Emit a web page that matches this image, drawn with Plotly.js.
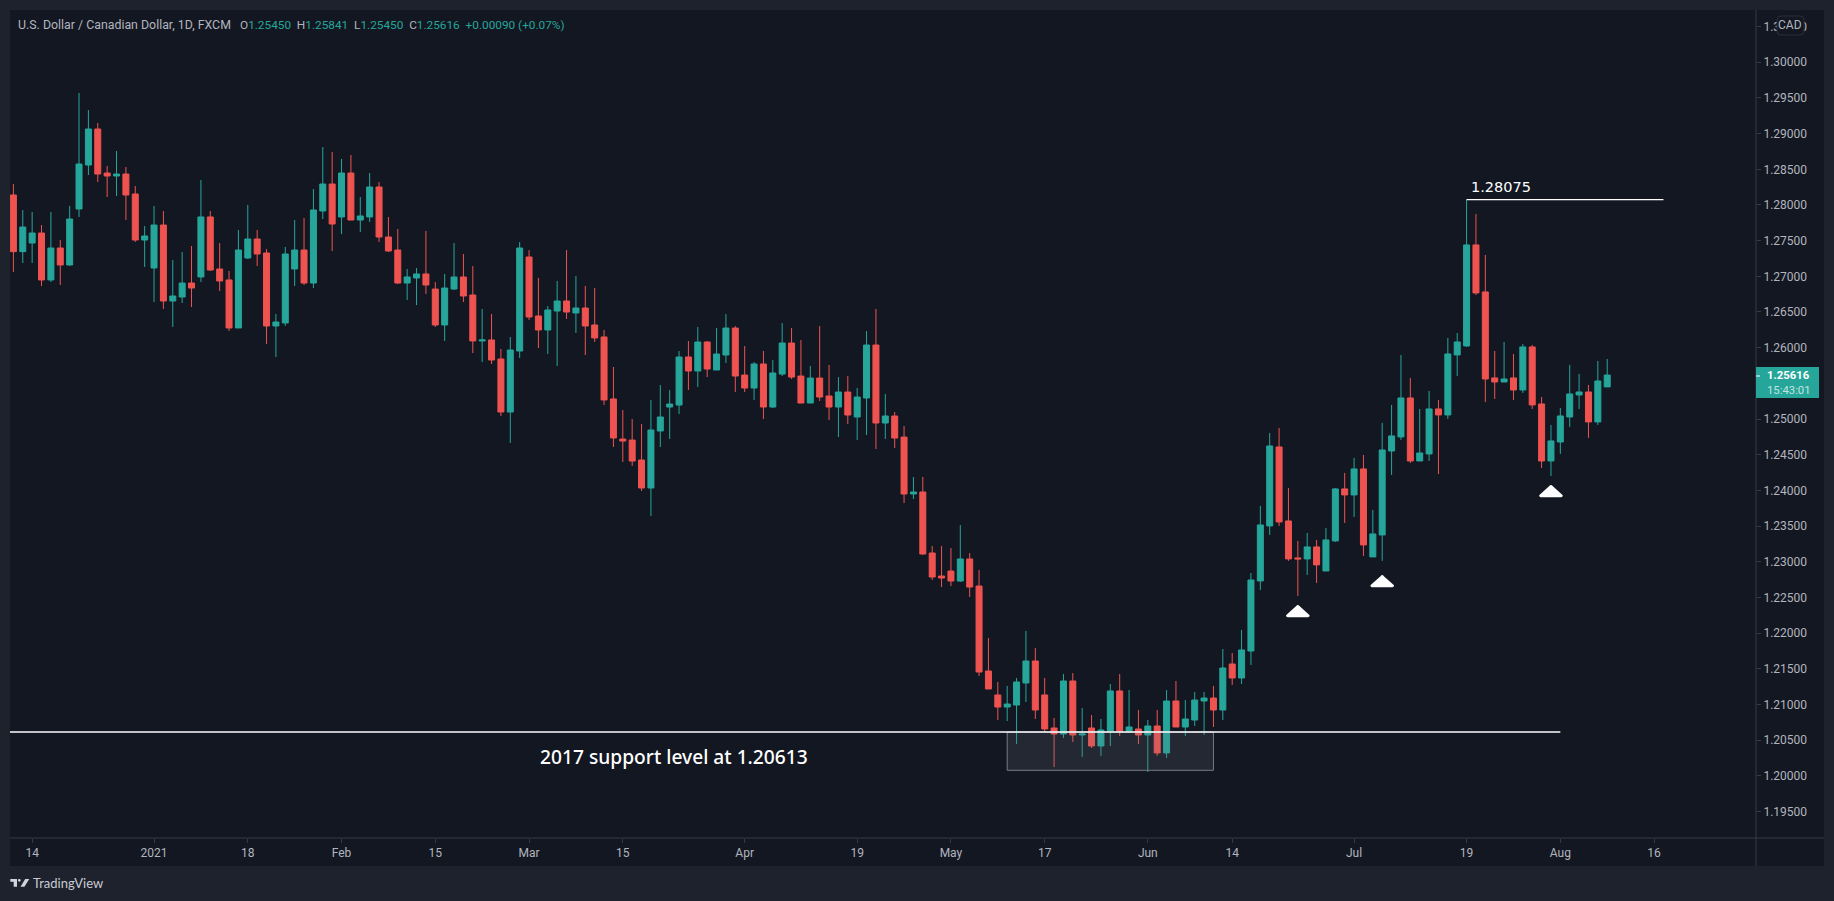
<!DOCTYPE html>
<html>
<head>
<meta charset="utf-8">
<script src="https://cdn.plot.ly/plotly-3.0.1.min.js"></script>
<style>html,body{margin:0;padding:0;background:#1e222d;overflow:hidden}#chart{width:1834px;height:901px}</style>
</head>
<body>
<div id="chart"></div>
<script>
const openPrices = [
1.28140,1.27346,1.27467,1.27607,1.26949,1.27397,1.27159,1.27944,1.28560,1.29065,
1.28448,1.28406,1.28434,1.28154,1.27509,1.27117,1.27719,1.26654,1.26710,1.26906,
1.26991,1.27832,1.27103,1.26949,1.26276,1.27257,1.27523,1.27327,1.26304,1.26346,
1.27103,1.27369,1.26906,1.27916,1.28294,1.27832,1.28448,1.27789,1.27832,1.28252,
1.27551,1.27369,1.26906,1.26977,1.27033,1.26822,1.26318,1.26822,1.26991,1.26738,
1.26094,1.26108,1.25841,1.25098,1.25953,1.27271,1.26444,1.26248,1.26514,1.26654,
1.26486,1.26556,1.26318,1.26150,1.25281,1.24719,1.24705,1.24425,1.24033,1.24832,
1.25168,1.25196,1.25869,1.25673,1.26079,1.25687,1.25897,1.26275,1.25616,1.25434,
1.25771,1.25168,1.25630,1.26065,1.25602,1.25224,1.25574,1.25322,1.25168,1.25378,
1.25028,1.25294,1.26037,1.24944,1.25042,1.24747,1.23949,1.23977,1.23122,1.22799,
1.22869,1.22729,1.23038,1.22659,1.21468,1.21132,1.20963,1.20991,1.21300,1.21608,
1.21132,1.20669,1.20585,1.21328,1.20571,1.20669,1.20417,1.20627,1.21188,1.20627,
1.20655,1.20571,1.20697,1.20319,1.21047,1.20683,1.20781,1.21047,1.21089,1.20921,
1.21566,1.21370,1.21748,1.22730,1.23501,1.24608,1.23571,1.23053,1.23039,1.23207,
1.22870,1.23291,1.24020,1.23936,1.24300,1.23067,1.23375,1.24552,1.24749,1.25295,
1.24412,1.24510,1.25141,1.25057,1.25898,1.26024,1.27440,1.26781,1.25576,1.25519,
1.25576,1.25407,1.26010,1.25211,1.24412,1.24678,1.25029,1.25337,1.25379,1.24959,1.25450];
const highPrices = [
1.28294,1.27930,1.27902,1.27719,1.27902,1.27509,1.27986,1.29570,1.29331,1.29149,
1.28546,1.28757,1.28532,1.28266,1.27705,1.27986,1.27916,1.27229,1.27341,1.27425,
1.28350,1.27916,1.27467,1.27075,1.27649,1.28000,1.27649,1.27383,1.26472,1.27411,
1.27789,1.27818,1.28224,1.28813,1.28743,1.28644,1.28701,1.28112,1.28448,1.28322,
1.27832,1.27663,1.27103,1.27117,1.27635,1.26920,1.27033,1.27467,1.27313,1.27145,
1.26542,1.26472,1.25981,1.26150,1.27481,1.27369,1.26977,1.26584,1.26935,1.27369,
1.27005,1.26864,1.26836,1.26248,1.25729,1.25126,1.25000,1.24930,1.25266,1.25476,
1.25406,1.25953,1.26093,1.26289,1.26093,1.26275,1.26471,1.26303,1.26023,1.25799,
1.25953,1.25827,1.26345,1.26275,1.26107,1.25743,1.26303,1.25757,1.25588,1.25602,
1.25434,1.26233,1.26542,1.25350,1.25098,1.24902,1.24187,1.24187,1.23220,1.23220,
1.23192,1.23514,1.23122,1.22884,1.21930,1.21314,1.21258,1.21370,1.22029,1.21790,
1.21370,1.20809,1.21426,1.21440,1.20949,1.20851,1.20795,1.21286,1.21426,1.21202,
1.20921,1.20781,1.20921,1.21202,1.21328,1.21061,1.21174,1.21174,1.21258,1.21776,
1.21720,1.22043,1.22841,1.23781,1.24805,1.24875,1.24034,1.23291,1.23403,1.23305,
1.23473,1.24034,1.24244,1.24454,1.24496,1.23725,1.24945,1.25197,1.25898,1.25576,
1.25141,1.25393,1.25267,1.26136,1.26206,1.28075,1.27874,1.27299,1.25954,1.26080,
1.25912,1.26052,1.26038,1.25309,1.24917,1.25155,1.25758,1.25632,1.25477,1.25814,1.25841];
const lowPrices = [
1.27061,1.27187,1.27187,1.26864,1.26920,1.26878,1.27145,1.27832,1.28420,1.28322,
1.28112,1.28126,1.27789,1.27481,1.27131,1.26640,1.26542,1.26290,1.26626,1.26570,
1.26920,1.27075,1.26794,1.26234,1.26276,1.27243,1.27145,1.26052,1.25869,1.26304,
1.26864,1.26878,1.26836,1.27803,1.27355,1.27593,1.27789,1.27621,1.27761,1.27481,
1.27341,1.26892,1.26668,1.26598,1.26752,1.26290,1.26094,1.26808,1.26640,1.25925,
1.25799,1.25771,1.25042,1.24664,1.25855,1.26388,1.25995,1.25911,1.25743,1.26402,
1.26206,1.25897,1.26080,1.25197,1.24608,1.24397,1.24341,1.23991,1.23640,1.24607,
1.24719,1.25070,1.25406,1.25448,1.25588,1.25687,1.25785,1.25378,1.25378,1.25266,
1.25000,1.25154,1.25602,1.25560,1.25224,1.25224,1.25252,1.24986,1.24747,1.24930,
1.24705,1.24776,1.24579,1.24719,1.24593,1.23822,1.23878,1.23094,1.22743,1.22645,
1.22659,1.22715,1.22505,1.21398,1.21216,1.20781,1.20767,1.20445,1.21033,1.20795,
1.20613,1.20122,1.20529,1.20473,1.20263,1.20389,1.20277,1.20417,1.20557,1.20613,
1.20445,1.20052,1.20277,1.20249,1.20683,1.20557,1.20697,1.20571,1.20683,1.20781,
1.21272,1.21286,1.21552,1.22604,1.23375,1.23501,1.23011,1.22520,1.22814,1.22702,
1.22870,1.23277,1.23543,1.23627,1.23081,1.23067,1.23011,1.24216,1.24707,1.24384,
1.24412,1.24412,1.24230,1.25001,1.25604,1.26010,1.26739,1.25239,1.25281,1.25519,
1.25267,1.25365,1.25141,1.24314,1.24202,1.24510,1.24889,1.25141,1.24735,1.24917,1.25450];
const closePrices = [
1.27346,1.27691,1.27607,1.26949,1.27397,1.27159,1.27803,1.28574,1.29065,1.28434,
1.28406,1.28434,1.28140,1.27509,1.27565,1.27719,1.26654,1.26724,1.26906,1.26836,
1.27832,1.27089,1.26935,1.26276,1.27369,1.27523,1.27313,1.26304,1.26360,1.27313,
1.27369,1.26906,1.27930,1.28294,1.27733,1.28448,1.27789,1.27846,1.28252,1.27551,
1.27355,1.26906,1.26991,1.27033,1.26878,1.26318,1.26836,1.26991,1.26724,1.26094,
1.26108,1.25827,1.25098,1.25967,1.27397,1.26430,1.26248,1.26528,1.26654,1.26500,
1.26556,1.26304,1.26136,1.25267,1.24734,1.24691,1.24411,1.24033,1.24846,1.25028,
1.25210,1.25869,1.25673,1.26079,1.25701,1.25911,1.26275,1.25602,1.25434,1.25771,
1.25168,1.25645,1.26065,1.25588,1.25224,1.25574,1.25308,1.25168,1.25378,1.25056,
1.25308,1.26037,1.24944,1.25042,1.24733,1.23949,1.23977,1.23108,1.22785,1.22771,
1.22729,1.23038,1.22645,1.21454,1.21216,1.20963,1.21005,1.21314,1.21608,1.20921,
1.20655,1.20585,1.21328,1.20571,1.20585,1.20417,1.20641,1.21188,1.20627,1.20683,
1.20571,1.20697,1.20319,1.21047,1.20683,1.20795,1.21061,1.21089,1.20921,1.21510,
1.21370,1.21762,1.22743,1.23515,1.24622,1.23557,1.23039,1.23039,1.23207,1.22955,
1.23305,1.24020,1.23936,1.24300,1.23235,1.23389,1.24566,1.24763,1.25295,1.24412,
1.24524,1.25141,1.25057,1.25912,1.26080,1.27440,1.26767,1.25561,1.25519,1.25561,
1.25407,1.26010,1.25197,1.24412,1.24693,1.25043,1.25351,1.25379,1.24959,1.25533,1.25616];

// time axis: trading-day index, first bar is 10 Dec 2020
const tickBars   = [2,15,25,35,45,55,65,78,90,100,110,121,130,143,155,165,175];
const tickLabels = ["14","2021","18","Feb","15","Mar","15","Apr","19","May","17","Jun","14","Jul","19","Aug","16"];
// price axis: 1.25500 is hidden by the last-price tag in the reference
const priceTicks = [1.195,1.2,1.205,1.21,1.215,1.22,1.225,1.23,1.235,1.24,1.245,1.25,1.26,1.265,1.27,1.275,1.28,1.285,1.29,1.295,1.3,1.305];

const supportLevel = 1.20613, supportEndBar = 165;
const highLevel = 1.28075, highStartBar = 155, highEndBar = 176;
const zoneBars = [106,128], zonePrices = [1.20076,1.20613];
const markerBars = [137,146,164], markerTips = [1.22407,1.22827,1.24089];

const COLORS = {up:"#26a69a", down:"#ef5350", bg:"#131722", frame:"#1e222d", axis:"#363a45", text:"#b2b5be"};
const FONT = "Roboto, Lato, sans-serif";

// plot rectangle in page pixels
const L=10,R=1756,T=10,B=838,W=R-L,H=B-T;
const px=x=>(x-L)/W, py=y=>1-(y-T)/H;
const rectPx=(x0,y0,x1,y1,fill,extra)=>Object.assign({type:"rect",xref:"paper",yref:"paper",x0:px(x0),x1:px(x1),y0:py(y0),y1:py(y1),fillcolor:fill,line:{width:0}},extra||{});
const linePx=(x0,y0,x1,y1,color)=>({type:"line",xref:"paper",yref:"paper",x0:px(x0),x1:px(x1),y0:py(y0),y1:py(y1),line:{color:color,width:1}});
const polyPx=(pts,fill)=>({type:"path",xref:"paper",yref:"paper",path:pts.map((p,i)=>(i?"L":"M")+px(p[0])+","+py(p[1])).join(" ")+" Z",fillcolor:fill,line:{width:0}});
const textPx=(x,y,text,size,color,anchor,family,weight)=>({xref:"paper",yref:"paper",x:px(x),y:py(y),text:text,showarrow:false,xanchor:anchor||"left",yanchor:"middle",align:"left",font:{size:size,color:color,family:family||FONT,weight:weight||400},borderpad:0,borderwidth:0});

const shapes=[
  // panels around the plot
  rectPx(R,T,1824,866,COLORS.bg,{layer:"below"}),
  rectPx(L,B,R,866,COLORS.bg,{layer:"below"}),
  linePx(R,T,R,866,COLORS.axis),
  linePx(L,B,1824,B,COLORS.axis),
  // support line and zone
  {type:"rect",xref:"x",yref:"y",x0:zoneBars[0],x1:zoneBars[1],y0:zonePrices[0],y1:zonePrices[1],fillcolor:"rgba(120,123,134,0.17)",line:{color:"#787b86",width:1}},
  {type:"line",xref:"x",yref:"y",x0:-2,x1:supportEndBar,y0:supportLevel,y1:supportLevel,line:{color:"#ffffff",width:1.3}},
  {type:"line",xref:"x",yref:"y",x0:highStartBar,x1:highEndBar,y0:highLevel,y1:highLevel,line:{color:"#ffffff",width:1.3}},
  // last price tag
  rectPx(R,367,1819,398,COLORS.up),
  linePx(R,376,R+4,376,"#ffffff"),
  // CAD button
  {type:"path",xref:"paper",yref:"paper",path:(()=>{const a=1777,b=1804,c=16,d=35,r=4;return `M${px(a+r)},${py(c)} L${px(b-r)},${py(c)} Q${px(b)},${py(c)} ${px(b)},${py(c+r)} L${px(b)},${py(d-r)} Q${px(b)},${py(d)} ${px(b-r)},${py(d)} L${px(a+r)},${py(d)} Q${px(a)},${py(d)} ${px(a)},${py(d-r)} L${px(a)},${py(c+r)} Q${px(a)},${py(c)} ${px(a+r)},${py(c)} Z`;})(),fillcolor:COLORS.bg,line:{color:"#2a2e39",width:1}},
  // TradingView logo
  polyPx([[10.3,879],[17,879],[17,886.7],[13.7,886.7],[13.7,881.7],[10.3,881.7]],"#d1d4dc"),
  {type:"circle",xref:"paper",yref:"paper",x0:px(17.9),x1:px(20.7),y0:py(878.9),y1:py(881.7),fillcolor:"#d1d4dc",line:{width:0}},
  polyPx([[25.2,879],[29.3,879],[24.4,886.7],[20.5,886.7]],"#d1d4dc")
];
// white markers under the swing lows (rounded apex and base corners)
markerBars.forEach((b,i)=>{
  const t=markerTips[i], h=0.00186, w=1.26;
  const a=0.14*w, c=0.16*h;
  shapes.push({type:"path",xref:"x",yref:"y",
    path:`M${b-a},${t-c} Q${b},${t} ${b+a},${t-c} L${b+w},${t-h+c} Q${b+w},${t-h} ${b+w-a},${t-h} L${b-w+a},${t-h} Q${b-w},${t-h} ${b-w},${t-h+c} Z`,
    fillcolor:"#ffffff",line:{width:0}});
});

const G=COLORS.up, g=v=>`<span style="color:${G}">${v}</span>`;
const annotations=[
  textPx(18,25,"U.S. Dollar / Canadian Dollar, 1D, FXCM",12.35,COLORS.text),
  textPx(240,25,"O"+g("1.25450")+"  H"+g("1.25841")+"  L"+g("1.25450")+"  C"+g("1.25616")+"  "+g("+0.00090 (+0.07%)"),11.8,COLORS.text),
  textPx(1790.5,25.5,"CAD",12,COLORS.text,"center"),
  textPx(1767,382.7,'<b>1.25616</b><br><span style="color:rgba(255,255,255,0.72)">15:43:01</span>',11.3,"#ffffff"),
  {xref:"x",yref:"y",x:highStartBar+0.3,y:highLevel,yshift:13,text:"1.28075",showarrow:false,xanchor:"left",yanchor:"middle",font:{size:14.5,color:"#ffffff",family:"DejaVu Sans"}},
  textPx(674,756.5,"2017 support level at 1.20613",19.2,"#ffffff","center","Noto Sans",500),
  textPx(33,883.5,"TradingView",13,"#c8cbd3","left","Lato")
];

const trace={
  type:"candlestick",
  x:openPrices.map((_,i)=>i),
  open:openPrices,high:highPrices,low:lowPrices,close:closePrices,
  whiskerwidth:0,
  increasing:{line:{color:COLORS.up,width:1},fillcolor:COLORS.up},
  decreasing:{line:{color:COLORS.down,width:1},fillcolor:COLORS.down},
  hoverinfo:"none",showlegend:false
};

const layout={
  width:1834,height:901,
  margin:{l:L,r:1834-R,t:T,b:901-B,pad:0},
  paper_bgcolor:COLORS.frame,plot_bgcolor:COLORS.bg,
  showlegend:false,boxgap:0.36,boxgroupgap:0,dragmode:false,
  xaxis:{type:"linear",range:[-0.363,185.87],tickmode:"array",tickvals:tickBars,ticktext:tickLabels,
    showgrid:false,zeroline:false,showline:false,ticks:"outside",ticklen:4,tickcolor:COLORS.axis,
    tickfont:{family:FONT,size:12,color:COLORS.text},rangeslider:{visible:false},fixedrange:true},
  yaxis:{side:"right",range:[1.19127,1.30733],tickmode:"array",tickvals:priceTicks,ticktext:priceTicks.map(v=>v.toFixed(5)),
    showgrid:false,zeroline:false,showline:false,ticks:"outside",ticklen:4,tickcolor:COLORS.axis,
    tickfont:{family:FONT,size:12,color:COLORS.text},fixedrange:true},
  shapes:shapes,annotations:annotations
};
Plotly.newPlot("chart",[trace],layout,{displayModeBar:false,staticPlot:true});
</script>
</body>
</html>
